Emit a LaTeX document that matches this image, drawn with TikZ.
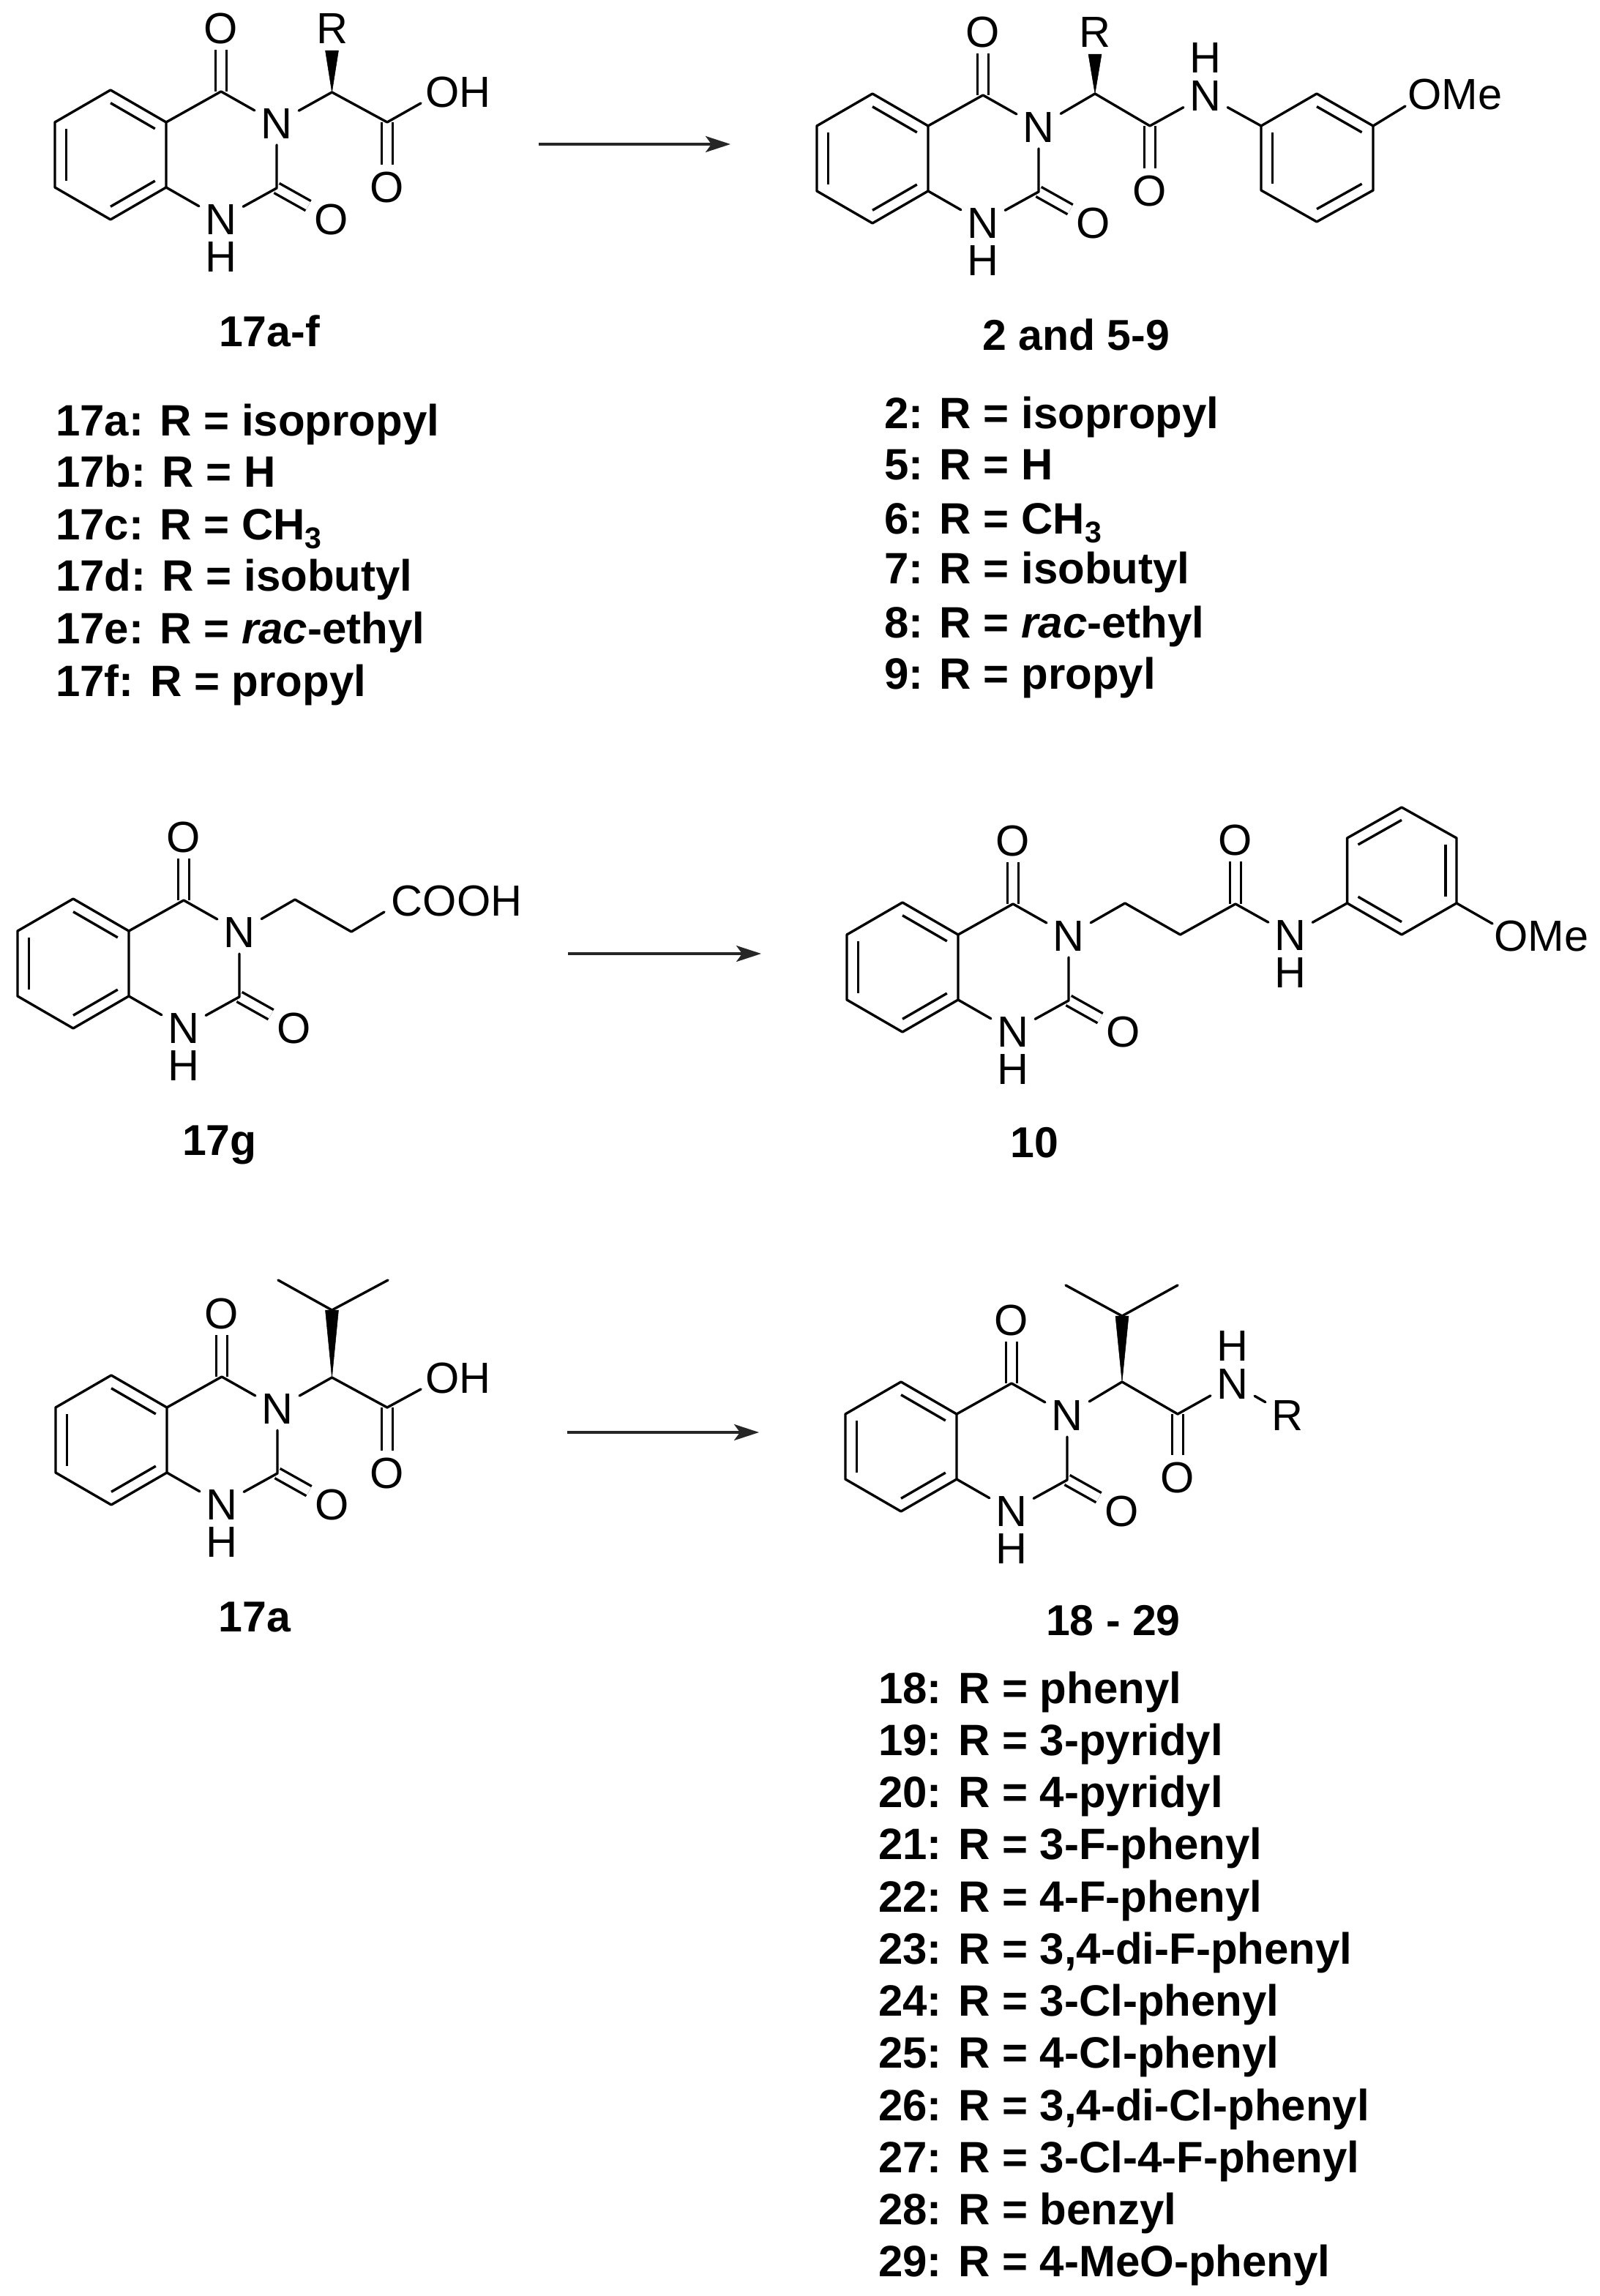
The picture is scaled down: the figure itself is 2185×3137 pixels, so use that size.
\documentclass[tikz,border=0pt]{standalone}
\usepackage{fontspec}
\setmainfont{Liberation Sans}
\usetikzlibrary{calc,arrows.meta}
\tikzset{
  base font/.style={font=\fontsize{59.5}{62}\selectfont},
  atom/.style={base font,inner sep=8.5pt,text height=42.5pt,text depth=0pt,anchor=center},
  bond/.style={line width=3.4pt,line cap=round,line join=round},
  dbl/.style={line width=3.4pt,double,double distance=11.5pt},
  ibond/.style={line width=3.4pt,line cap=butt},
  wedge/.style={fill=black,draw=black,line width=.5pt,line join=round},
  lab/.style={font=\fontsize{59}{62}\selectfont\bfseries,inner sep=0pt,text height=42pt,text depth=0pt,anchor=center},
  item/.style={font=\fontsize{60}{62}\selectfont\bfseries,inner sep=0pt,text height=43pt,text depth=0pt,anchor=west},
  rxn/.style={line width=3.4pt,draw=black!85,-{Stealth[length=34pt,width=22pt,inset=8pt]}}
}
% inner line of a ring double bond
\newcommand{\innerline}[3]{\draw[ibond] ($(#1)!0.2!(#3)$) -- ($(#2)!0.2!(#3)$);}
% subscript 3 as printed in the reference
\newcommand{\subthree}{\raisebox{-12pt}{\fontsize{41}{41}\selectfont 3}}
% quinazolinedione core; C4a at the origin of the current scope
\newcommand{\quincore}[1]{
  \coordinate (#1a4a) at (0,0);
  \coordinate (#1a8a) at (0,89);
  \coordinate (#1b1) at (-76,-44);
  \coordinate (#1b2) at (-152,0);
  \coordinate (#1b3) at (-152,89);
  \coordinate (#1b4) at (-76,133);
  \coordinate (#1ctr) at (-76,44.5);
  \coordinate (#1c4) at (75,-42);
  \coordinate (#1c2) at (151,90);
  \node[atom] (#1n3) at (151,1) {N};
  \node[atom] (#1n1) at (75,132) {N};
  \node[atom] (#1h1) at (75,183) {H};
  \node[atom] (#1o4) at (75,-129) {O};
  \node[atom] (#1o2) at (226,132) {O};
  \draw[dbl] (#1c4) -- (#1o4);
  \draw[dbl] (#1c2) -- (#1o2);
  \draw[bond] (#1a4a) -- (#1b1) -- (#1b2) -- (#1b3) -- (#1b4) -- (#1a8a) -- cycle;
  \draw[bond] (#1a4a) -- (#1c4) -- (#1n3) -- (#1c2) -- (#1n1) -- (#1a8a);
  \innerline{#1a4a}{#1b1}{#1ctr}
  \innerline{#1b2}{#1b3}{#1ctr}
  \innerline{#1b4}{#1a8a}{#1ctr}
}
\newcommand{\li}[4]{\node[item] (#1) at (#2,#3) {#4};}
\begin{document}
\begin{tikzpicture}[x=1pt,y=-1pt]
\useasboundingbox (0,0) rectangle (2185,3137);
\fill[white] (0,0) rectangle (2185,3137);

% ---------- 17a-f ----------
\begin{scope}[shift={(227,167)}]
  \quincore{m}
  \coordinate (mc) at (226.5,-41);
  \coordinate (mw1) at (217.5,-98);
  \coordinate (mw2) at (235.5,-98);
  \coordinate (mk) at (302,0);
  \coordinate (mohb) at (348,-26);
  \node[atom] (mr) at (226.5,-129) {R};
  \node[atom] (mo) at (302,88) {O};
  \node[atom] (moh) at (399,-42) {OH};
  \fill[wedge] (mc) -- (mw1) -- (mw2) -- cycle;
  \draw[dbl] (mk) -- (mo);
  \draw[bond] (mn3) -- (mc) -- (mk) -- (mohb);
\end{scope}
\node[lab] (l17af) at (368,452) {17a-f};
\li{a1}{76}{574}{17a: R = isopropyl}
\li{a2}{76}{644}{17b: R = H}
\li{a3}{76}{716}{17c: R = CH\subthree}
\li{a4}{76}{786}{17d: R = isobutyl}
\li{a5}{76}{858}{17e: R = \textit{rac}-ethyl}
\li{a6}{76}{930}{17f: R = propyl}

% ---------- 2 and 5-9 ----------
\begin{scope}[shift={(1268,172)}]
  \quincore{p}
  \coordinate (pc) at (228,-44);
  \coordinate (pw1) at (219,-98);
  \coordinate (pw2) at (237,-98);
  \coordinate (pk) at (303,0);
  \coordinate (pa1) at (455,0);
  \coordinate (pa2) at (531,-44);
  \coordinate (pa3) at (608,0);
  \coordinate (pa4) at (608,88);
  \coordinate (pa5) at (531,131);
  \coordinate (pa6) at (455,88);
  \coordinate (pctr) at (531,44);
  \coordinate (pomb) at (652,-27);
  \node[atom] (pr) at (228,-129) {R};
  \node[atom] (po) at (303,88) {O};
  \node[atom] (pn) at (379,-42) {N};
  \node[atom] (ph) at (379,-94) {H};
  \node[atom] (pome) at (720,-44) {OMe};
  \fill[wedge] (pc) -- (pw1) -- (pw2) -- cycle;
  \draw[dbl] (pk) -- (po);
  \draw[bond] (pn3) -- (pc) -- (pk) -- (pn) -- (pa1);
  \draw[bond] (pa1) -- (pa2) -- (pa3) -- (pa4) -- (pa5) -- (pa6) -- cycle;
  \draw[bond] (pa3) -- (pomb);
  \innerline{pa2}{pa3}{pctr}
  \innerline{pa4}{pa5}{pctr}
  \innerline{pa6}{pa1}{pctr}
\end{scope}
\node[lab] (l2) at (1470,457) {2 and 5-9};
\li{b1}{1208}{564}{2: R = isopropyl}
\li{b2}{1208}{634}{5: R = H}
\li{b3}{1208}{708}{6: R = CH\subthree}
\li{b4}{1208}{776}{7: R = isobutyl}
\li{b5}{1208}{850}{8: R = \textit{rac}-ethyl}
\li{b6}{1208}{920}{9: R = propyl}

% ---------- 17g ----------
\begin{scope}[shift={(176,1272)}]
  \quincore{g}
  \coordinate (gc1) at (227,-43);
  \coordinate (gc2) at (304,1);
  \coordinate (gcb) at (349,-26);
  \node[atom] (gcooh) at (448,-42) {COOH};
  \draw[bond] (gn3) -- (gc1) -- (gc2) -- (gcb);
\end{scope}
\node[lab] (l17g) at (300,1557) {17g};

% ---------- 10 ----------
\begin{scope}[shift={(1309,1277)}]
  \quincore{t}
  \coordinate (tc1) at (228,-43);
  \coordinate (tc2) at (303.5,0);
  \coordinate (tk) at (379,-42);
  \coordinate (ta1) at (531.6,-43);
  \coordinate (ta2) at (606,0);
  \coordinate (ta3) at (681,-43);
  \coordinate (ta4) at (681,-132);
  \coordinate (ta5) at (606,-174);
  \coordinate (ta6) at (531.6,-132);
  \coordinate (tctr) at (606,-87);
  \coordinate (tomb) at (730,-15);
  \node[atom] (to) at (379,-130) {O};
  \node[atom] (tn) at (454,0) {N};
  \node[atom] (th) at (454,51) {H};
  \node[atom] (tome) at (797,1) {OMe};
  \draw[dbl] (tk) -- (to);
  \draw[bond] (tn3) -- (tc1) -- (tc2) -- (tk) -- (tn) -- (ta1);
  \draw[bond] (ta1) -- (ta2) -- (ta3) -- (ta4) -- (ta5) -- (ta6) -- cycle;
  \draw[bond] (ta3) -- (tomb);
  \innerline{ta1}{ta2}{tctr}
  \innerline{ta3}{ta4}{tctr}
  \innerline{ta5}{ta6}{tctr}
\end{scope}
\node[lab] (l10) at (1413,1560) {10};

% ---------- 17a ----------
\begin{scope}[shift={(228,1923)}]
  \quincore{v}
  \coordinate (vc) at (225.5,-41);
  \coordinate (vch) at (225.5,-133);
  \coordinate (vw1) at (216.5,-133);
  \coordinate (vw2) at (234.5,-133);
  \coordinate (vme1) at (152,-174);
  \coordinate (vme2) at (302,-174);
  \coordinate (vk) at (301,0);
  \coordinate (vohb) at (347,-25);
  \node[atom] (vo) at (301,89) {O};
  \node[atom] (voh) at (398,-41) {OH};
  \fill[wedge] (vc) -- (vw1) -- (vw2) -- cycle;
  \draw[dbl] (vk) -- (vo);
  \draw[bond] (vn3) -- (vc) -- (vk) -- (vohb);
  \draw[bond] (vme1) -- (vch) -- (vme2);
\end{scope}
\node[lab] (l17a) at (348,2208) {17a};

% ---------- 18-29 ----------
\begin{scope}[shift={(1307,1932)}]
  \quincore{w}
  \coordinate (wc) at (226,-44);
  \coordinate (wch) at (226,-134);
  \coordinate (ww1) at (217,-134);
  \coordinate (ww2) at (235,-134);
  \coordinate (wme1) at (149,-176);
  \coordinate (wme2) at (302,-176);
  \coordinate (wk) at (302,0);
  \node[atom] (wo) at (302,86) {O};
  \node[atom] (wn) at (377,-42) {N};
  \node[atom] (wh) at (377,-94) {H};
  \node[atom] (wr) at (452,1) {R};
  \fill[wedge] (wc) -- (ww1) -- (ww2) -- cycle;
  \draw[dbl] (wk) -- (wo);
  \draw[bond] (wn3) -- (wc) -- (wk) -- (wn) -- (wr);
  \draw[bond] (wme1) -- (wch) -- (wme2);
\end{scope}
\node[lab] (l18) at (1521,2213) {18 - 29};
\li{c1}{1200}{2306}{18: R = phenyl}
\li{c2}{1200}{2377}{19: R = 3-pyridyl}
\li{c3}{1200}{2448}{20: R = 4-pyridyl}
\li{c4}{1200}{2519}{21: R = 3-F-phenyl}
\li{c5}{1200}{2591}{22: R = 4-F-phenyl}
\li{c6}{1200}{2662}{23: R = 3,4-di-F-phenyl}
\li{c7}{1200}{2733}{24: R = 3-Cl-phenyl}
\li{c8}{1200}{2804}{25: R = 4-Cl-phenyl}
\li{c9}{1200}{2876}{26: R = 3,4-di-Cl-phenyl}
\li{c10}{1200}{2947}{27: R = 3-Cl-4-F-phenyl}
\li{c11}{1200}{3018}{28: R = benzyl}
\li{c12}{1200}{3089}{29: R = 4-MeO-phenyl}

% ---------- reaction arrows ----------
\coordinate (r1s) at (736,197);
\coordinate (r1e) at (998,197);
\coordinate (r2s) at (776,1303);
\coordinate (r2e) at (1040,1303);
\coordinate (r3s) at (775,1957);
\coordinate (r3e) at (1037,1957);
\draw[rxn] (r1s) -- (r1e);
\draw[rxn] (r2s) -- (r2e);
\draw[rxn] (r3s) -- (r3e);
\end{tikzpicture}
\end{document}
